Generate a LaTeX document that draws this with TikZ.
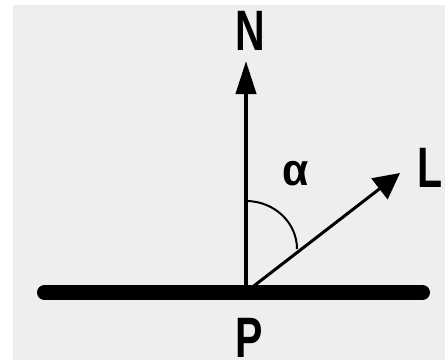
\documentclass[tikz,border=0pt]{standalone}
\usepackage{fontspec}
\setmainfont{Liberation Sans}
\usetikzlibrary{arrows.meta}
\definecolor{bg}{HTML}{EEEEEE}
\begin{document}
\begin{tikzpicture}[x=1pt,y=-1pt,
  lbl/.style={inner sep=0pt,anchor=base,xscale=0.72,font=\fontsize{57}{57}\selectfont\bfseries},
  greek/.style={inner sep=0pt,anchor=base,xscale=0.95,font=\fontsize{45}{45}\selectfont\bfseries},
  vec/.style={draw=black}]
\useasboundingbox (0,0) rectangle (445,360);
\fill[white] (0,0) rectangle (445,360);
\fill[bg] (13,5) rectangle (445,360);
\coordinate (P) at (246,292);
\coordinate (Ntip) at (246,61);
\coordinate (Ltip) at (400,173);
\coordinate (Pl) at (44.5,292.5);
\coordinate (Pr) at (422.5,292.5);
\coordinate (arcS) at (246,201);
% surface
\draw[line width=15pt,line cap=round] (Pl) -- (Pr);
% normal
\draw[vec,line width=4pt,-{Triangle[length=33pt,width=20pt]}] (P) -- (Ntip);
% light
\draw[vec,line width=3pt,-{Triangle[length=26pt,width=26pt]}] (P) -- (Ltip);
% angle arc
\draw[line width=2pt] (arcS) arc[start angle=90,end angle=0,x radius=51,y radius=-48];
% labels
\node[lbl] (N) at (250,50) {N};
\node[lbl] (L) at (430,187) {L};
\node[lbl] (Plab) at (249,357) {P};
\node[greek] (alpha) at (296,185.5) {α};
\end{tikzpicture}
\end{document}
